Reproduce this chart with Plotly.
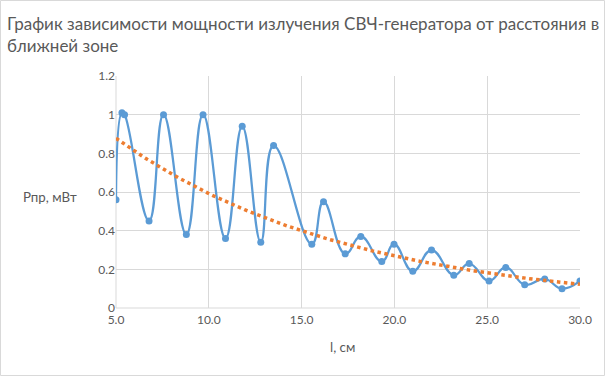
import numpy as np
import plotly.graph_objects as go

# distance, cm
distance_cm = [5.0, 5.32, 5.46, 6.78, 7.56, 8.79, 9.69, 10.9, 11.8, 12.8, 13.49,
               15.55, 16.18, 17.35, 18.19, 19.32, 19.98, 20.99, 22.0, 23.2, 24.03,
               25.1, 26.0, 27.02, 28.1, 29.03, 30.0]
# received power, mW
power_mw = [0.56, 1.01, 1.0, 0.45, 1.0, 0.38, 1.0, 0.36, 0.94, 0.34, 0.84,
            0.33, 0.55, 0.28, 0.37, 0.24, 0.33, 0.19, 0.30, 0.17, 0.23,
            0.14, 0.21, 0.12, 0.15, 0.10, 0.14]

x_ticks = [5, 10, 15, 20, 25, 30]
y_ticks = [0, 0.2, 0.4, 0.6, 0.8, 1.0, 1.2]

# exponential trendline (least squares on ln y, as a spreadsheet does)
xa = np.array(distance_cm)
b, lna = np.polyfit(xa, np.log(np.array(power_mw)), 1)
trend_x = np.linspace(5, 30, 120)
trend_y = np.exp(lna) * np.exp(b * trend_x)

W, H = 605, 376
ml, mr, mt, mb = 116, 25, 76, 68
pw, ph = W - ml - mr, H - mt - mb

fig = go.Figure()
fig.add_trace(go.Scatter(
    x=distance_cm, y=power_mw, mode="lines+markers",
    line=dict(color="#5B9BD5", width=2.25, shape="spline", smoothing=1.3),
    marker=dict(color="#5B9BD5", size=7, symbol="circle"),
    showlegend=False, hoverinfo="x+y"))
fig.add_trace(go.Scatter(
    x=trend_x, y=trend_y, mode="lines",
    line=dict(color="#ED7D31", width=3.5, dash="dot"),
    showlegend=False, hoverinfo="skip"))

font_c = "#595959"
fig.update_layout(
    width=W, height=H,
    margin=dict(l=ml, r=mr, t=mt, b=mb),
    paper_bgcolor="white", plot_bgcolor="white",
    font=dict(family="Lato, Carlito, sans-serif", color=font_c, size=12),
    xaxis=dict(range=[5, 30], tickvals=x_ticks, tickformat=".1f",
               showgrid=True, gridcolor="#D9D9D9", gridwidth=1,
               zeroline=False, showline=False, ticks="",
               ticklabelstandoff=3,
               tickfont=dict(size=12, color=font_c)),
    yaxis=dict(range=[0, 1.2], tickvals=y_ticks,
               ticktext=["0", "0.2", "0.4", "0.6", "0.8", "1", "1.2"],
               showgrid=True, gridcolor="#D9D9D9", gridwidth=1,
               zeroline=False, showline=False, ticks="",
               tickfont=dict(size=12, color=font_c)),
    annotations=[
        dict(text="График зависимости мощности излучения СВЧ-генератора от расстояния в<br>ближней зоне",
             xref="paper", yref="paper", x=-(ml - 5) / pw, y=1 + (mt - 11) / ph,
             xanchor="left", yanchor="top", align="left", showarrow=False,
             font=dict(size=17, color=font_c)),
        dict(text="Рпр, мВт", xref="paper", yref="paper",
             x=-(ml - 49.5) / pw, y=(H - mb - 197) / ph,
             xanchor="center", yanchor="middle", showarrow=False,
             font=dict(size=13.3, color=font_c)),
        dict(text="l, см", xref="paper", yref="paper",
             x=(342 - ml) / pw, y=-(347 - (H - mb)) / ph,
             xanchor="center", yanchor="middle", showarrow=False,
             font=dict(size=13.3, color=font_c)),
    ],
    shapes=[
        dict(type="rect", xref="paper", yref="paper",
             x0=-(ml - 0.5) / pw, x1=1 + (mr - 0.5) / pw,
             y0=-(mb - 0.5) / ph, y1=1 + (mt - 0.5) / ph,
             line=dict(color="#D9D9D9", width=1), fillcolor="rgba(0,0,0,0)",
             layer="below"),
        dict(type="line", xref="paper", yref="paper", x0=0, x1=0, y0=0, y1=1,
             line=dict(color="#D9D9D9", width=1), layer="below"),
        dict(type="line", xref="paper", yref="paper", x0=0, x1=1, y0=0, y1=0,
             line=dict(color="#D9D9D9", width=1), layer="below"),
    ],
)

fig.write_html(
    "out.html",
    config={"displayModeBar": False},
    post_script="document.body.style.margin='0';document.body.style.overflow='hidden';",
)
